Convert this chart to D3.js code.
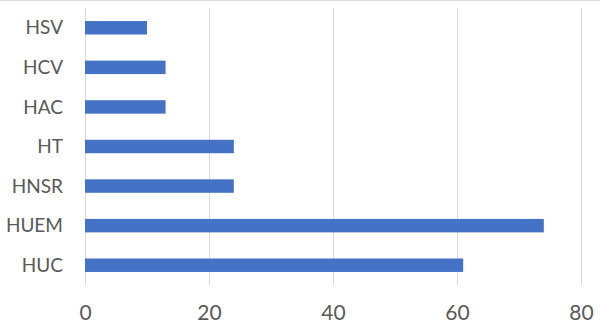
<!DOCTYPE html>
<html>
<head>
<meta charset="utf-8">
<script src="https://cdn.jsdelivr.net/npm/d3@7"></script>
<style>
  html, body { margin: 0; padding: 0; background: #fff; }
  svg { display: block; }
</style>
</head>
<body>
<svg id="chart" width="600" height="323"></svg>
<script>
const categories = ["HSV", "HCV", "HAC", "HT", "HNSR", "HUEM", "HUC"];
const values = [10, 13, 13, 24, 24, 74, 61];
const xTicks = [0, 20, 40, 60, 80];

const svg = d3.select("#chart");
const W = 600, H = 323;
const mLeft = 85, mRight = 581, mTop = 8, mBottom = 285;

svg.append("line")
  .attr("x1", 0).attr("x2", W).attr("y1", 0.5).attr("y2", 0.5)
  .attr("stroke", "#d9d9d9").attr("stroke-width", 1);

const x = d3.scaleLinear().domain([0, 80]).range([mLeft, mRight]);
const y = d3.scaleBand().domain(categories).range([mTop, mBottom])
  .paddingInner(0.66).paddingOuter(0.33);

// gridlines
svg.append("g").selectAll("line").data(xTicks).join("line")
  .attr("x1", d => Math.round(x(d)) + 0.5).attr("x2", d => Math.round(x(d)) + 0.5)
  .attr("y1", mTop).attr("y2", mBottom)
  .attr("stroke", "#d9d9d9").attr("stroke-width", 1);

// bars
svg.append("g").selectAll("rect").data(categories).join("rect")
  .attr("x", x(0))
  .attr("y", d => y(d))
  .attr("width", (d, i) => x(values[i]) - x(0))
  .attr("height", y.bandwidth())
  .attr("fill", "#4472C4");

// x axis labels
const xAxis = d3.axisBottom(x).tickValues(xTicks).tickSize(0).tickPadding(0);
const gx = svg.append("g").attr("transform", `translate(0, ${mBottom})`).call(xAxis);
gx.select(".domain").remove();
gx.selectAll("text")
  .attr("dy", null)
  .attr("y", 29.5)
  .attr("dominant-baseline", "middle")
  .attr("font-family", "Lato, 'Open Sans', sans-serif")
  .attr("font-size", 21)
  .attr("fill", "#595959");

// y axis labels
const yAxis = d3.axisLeft(y).tickSize(0).tickPadding(22);
const gy = svg.append("g").attr("transform", `translate(${mLeft}, 0)`).call(yAxis);
gy.select(".domain").remove();
gy.selectAll("text")
  .attr("dy", "0.35em")
  .attr("font-family", "Lato, 'Open Sans', sans-serif")
  .attr("font-size", 19)
  .attr("fill", "#595959");
</script>
</body>
</html>
